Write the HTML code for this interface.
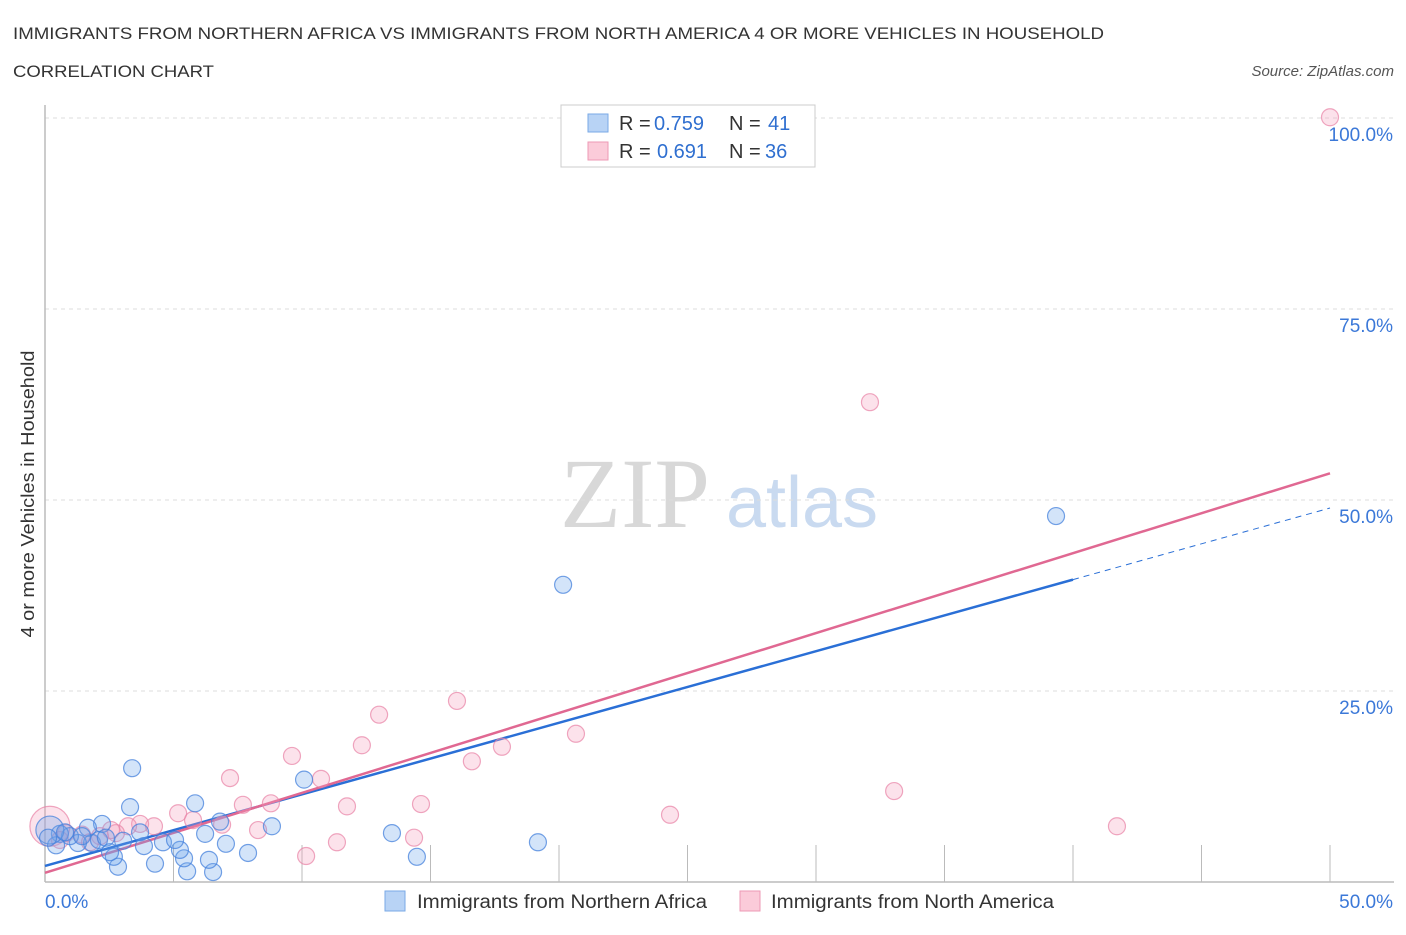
<!DOCTYPE html>
<html><head><meta charset="utf-8"><style>
body{margin:0;background:#fff;font-family:"Liberation Sans",sans-serif;}
</style></head><body>
<svg id="chart" width="1406" height="930" xmlns="http://www.w3.org/2000/svg" font-family="Liberation Sans, sans-serif">
<text x="13" y="39" font-size="17" fill="#333" textLength="1091" lengthAdjust="spacingAndGlyphs">IMMIGRANTS FROM NORTHERN AFRICA VS IMMIGRANTS FROM NORTH AMERICA 4 OR MORE VEHICLES IN HOUSEHOLD</text>
<text x="13" y="77" font-size="17" fill="#333" textLength="201" lengthAdjust="spacingAndGlyphs">CORRELATION CHART</text>
<text x="1394" y="76" font-size="15" fill="#555" font-style="italic" text-anchor="end">Source: ZipAtlas.com</text>
<g>
<text x="635" y="527" font-size="100" fill="#d8d8d8" style="font-family:'Liberation Serif',serif" text-anchor="middle">ZIP</text>
<text x="802" y="527" font-size="72" fill="#c9daf0" text-anchor="middle">atlas</text>
</g>
<g id="grid"></g>
<g id="axes"></g>
<g id="lines"></g>
<g id="points"></g>
<text transform="translate(34,494) rotate(-90)" font-size="18" fill="#333" text-anchor="middle" textLength="287" lengthAdjust="spacingAndGlyphs">4 or more Vehicles in Household</text>
<g>
<rect x="561" y="105" width="254" height="62" fill="#fff" stroke="#ccc"/>
<rect x="588" y="114" width="20" height="18" fill="#b8d3f5" stroke="#7aa9e6"/>
<text x="619" y="130" font-size="20" fill="#333">R =</text>
<text x="654" y="130" font-size="20" fill="#2f6fd0">0.759</text>
<text x="729" y="130" font-size="20" fill="#333">N =</text>
<text x="768" y="130" font-size="20" fill="#2f6fd0">41</text>
<rect x="588" y="142" width="20" height="18" fill="#fbcbd9" stroke="#ee9ab5"/>
<text x="619" y="158" font-size="20" fill="#333">R =</text>
<text x="657" y="158" font-size="20" fill="#2f6fd0">0.691</text>
<text x="729" y="158" font-size="20" fill="#333">N =</text>
<text x="765" y="158" font-size="20" fill="#2f6fd0">36</text>
</g>
<g>
<rect x="385" y="891" width="20" height="20" fill="#b8d3f5" stroke="#7aa9e6"/>
<text x="417" y="908" font-size="19" fill="#333" textLength="290" lengthAdjust="spacingAndGlyphs">Immigrants from Northern Africa</text>
<rect x="740" y="891" width="20" height="20" fill="#fbcbd9" stroke="#ee9ab5"/>
<text x="771" y="908" font-size="19" fill="#333" textLength="283" lengthAdjust="spacingAndGlyphs">Immigrants from North America</text>
</g>
</svg>
<script>
const blueX=[3.39,3.31,5.84,10.08,20.16,39.34,13.5,14.47,19.18,8.83,7.9,7.04,6.54,6.38,5.53,5.41,5.25,4.59,5.06,4.28,3.85,3.7,2.84,2.68,3.04,2.22,1.83,1.67,1.28,0.97,0.58,0.43,0.19,2.1,2.37,6.23,6.81,0.78,1.44,2.53,0.12];
const blueY=[14.9,9.8,10.3,13.4,38.9,47.9,6.4,3.3,5.2,7.3,3.8,5.0,1.3,2.9,1.4,3.1,4.2,5.2,5.5,2.4,4.7,6.5,2.0,3.3,5.4,7.6,5.1,7.1,5.1,6.0,6.3,4.8,6.8,5.5,5.8,6.3,7.9,6.5,6.0,3.9,5.8];
const pinkX=[50,32.1,16.03,13.0,12.33,9.61,10.74,7.2,20.66,17.78,16.61,33.04,24.32,41.71,14.63,11.75,7.7,8.79,5.18,5.76,6.89,4.24,3.7,3.23,2.76,8.29,11.36,10.16,14.36,2.14,1.44,0.82,0.19,0.58,1.75,2.57];
const pinkY=[100.1,62.8,23.7,21.9,17.9,16.5,13.5,13.6,19.4,17.7,15.8,11.9,8.8,7.3,10.2,9.9,10.1,10.3,9.0,8.1,7.5,7.3,7.6,7.3,6.4,6.8,5.2,3.4,5.8,6.0,6.2,6.4,7.3,5.5,5.2,6.8];
const blueTrend=[2.1,48.95];
const pinkTrend=[1.2,53.5];
const yTicks=[25,50,75,100];
const yTickLabels=["25.0%","50.0%","75.0%","100.0%"];
const NS="http://www.w3.org/2000/svg";
const sx=v=>45+v*25.7, sy=v=>882-v*7.64;
function mk(tag,attrs,parent){const e=document.createElementNS(NS,tag);for(const k in attrs)e.setAttribute(k,attrs[k]);document.getElementById(parent).appendChild(e);return e;}
yTicks.forEach((t,i)=>{
 const l=mk('line',{x1:45,x2:1394,y1:sy(t),y2:sy(t),stroke:'#ddd','stroke-dasharray':'4,4'},'grid');
 
 
 const tx=mk('text',{x:1393,y:sy(t)+23,'font-size':19,fill:'#3b78d8','text-anchor':'end'},'grid');
 tx.textContent=yTickLabels[i];
 
 
});
const ya=mk('line',{x1:45,x2:45,y1:105,y2:882,stroke:'#bbb','stroke-width':1.5},'axes');


const xa=mk('line',{x1:45,x2:1394,y1:882,y2:882,stroke:'#bbb','stroke-width':1.5},'axes');


for(let v=5;v<=50;v+=5){const tk=mk('line',{x1:sx(v),x2:sx(v),y1:845,y2:882,stroke:'#bbb'},'axes');
 
 }
[[0,"0.0%","start",45],[50,"50.0%","end",1393]].forEach(a=>{const t=mk('text',{x:a[3],y:908,'font-size':19,fill:'#3b78d8','text-anchor':a[2]},'axes');t.textContent=a[1];
 
 });
const yb=x=>blueTrend[0]+(blueTrend[1]-blueTrend[0])*x/50;
const yp=x=>pinkTrend[0]+(pinkTrend[1]-pinkTrend[0])*x/50;
let l1=mk('line',{x1:sx(0),y1:sy(yb(0)),x2:sx(40),y2:sy(yb(40)),stroke:'#2a6fd6','stroke-width':2.5},'lines');


let l2=mk('line',{x1:sx(40),y1:sy(yb(40)),x2:sx(50),y2:sy(yb(50)),stroke:'#2a6fd6','stroke-width':1,'stroke-dasharray':'6,5'},'lines');


let l3=mk('line',{x1:sx(0),y1:sy(yp(0)),x2:sx(50),y2:sy(yp(50)),stroke:'#e06892','stroke-width':2.5},'lines');


pinkX.forEach((x,i)=>{const c=mk('circle',{cx:sx(x),cy:sy(pinkY[i]),r:i==32?20:8.5,fill:'rgba(245,160,190,0.3)',stroke:'rgba(232,130,165,0.7)','stroke-width':1.2},'points');
 
 });
blueX.forEach((x,i)=>{const c=mk('circle',{cx:sx(x),cy:sy(blueY[i]),r:i==32?14:8.5,fill:'rgba(110,165,235,0.3)',stroke:'rgba(70,130,220,0.75)','stroke-width':1.2},'points');
 
 });
</script>
</body></html>
